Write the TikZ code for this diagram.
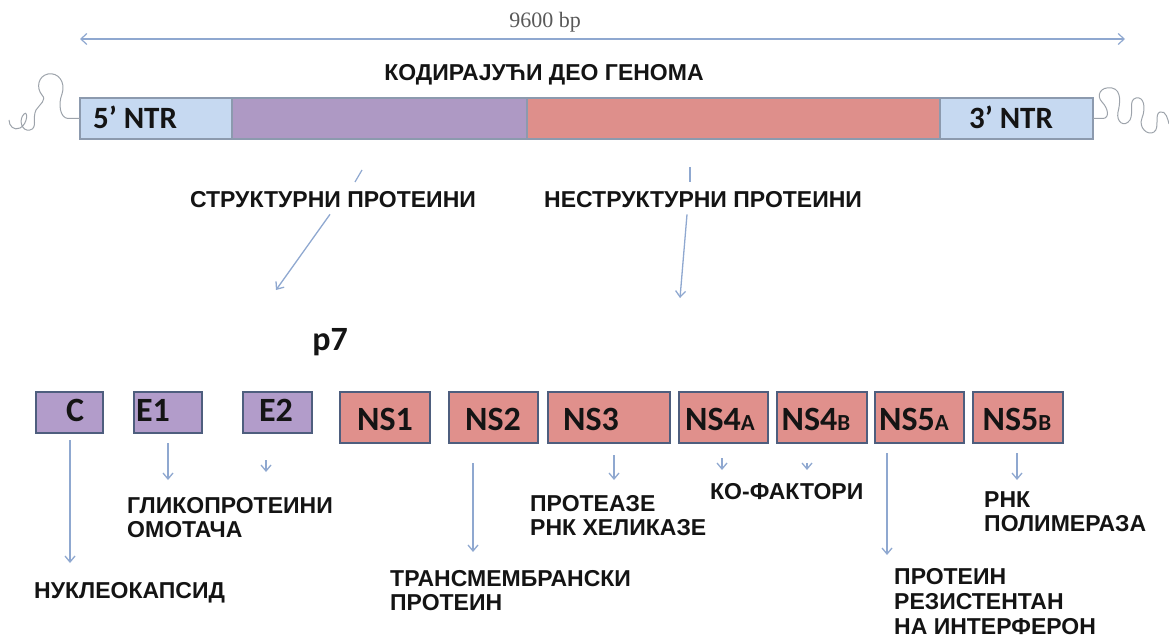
\documentclass[tikz,border=0pt]{standalone}
\usepackage{fontspec}
\setmainfont{Liberation Sans}
\newfontfamily\calfont{Carlito}
\newfontfamily\serffont{Liberation Serif}
\usetikzlibrary{arrows.meta}
\definecolor{ntrblue}{HTML}{C6D9F1}
\definecolor{barpurple}{HTML}{AE99C4}
\definecolor{barpink}{HTML}{DE8F8B}
\definecolor{boxpurple}{HTML}{B29CCA}
\definecolor{boxpink}{HTML}{E0908C}
\definecolor{boxline}{HTML}{4E5E7E}
\definecolor{barline}{HTML}{8C9AAE}
\definecolor{arrowc}{HTML}{8FA8D0}
\definecolor{squig}{HTML}{9DA3AB}
\definecolor{labeltext}{HTML}{141414}
\begin{document}
\begin{tikzpicture}[x=1pt,y=-1pt,
  seg/.style={draw=barline, line width=1.2pt, inner sep=0pt, outer sep=0pt, anchor=north west, minimum height=41pt},
  pbox/.style={draw=boxline, line width=2.5pt, fill=boxpurple, inner sep=0pt, outer sep=0pt, anchor=north west, minimum height=41pt},
  nbox/.style={draw=boxline, line width=2.5pt, fill=boxpink, inner sep=0pt, outer sep=0pt, anchor=north west, minimum height=51pt},
  lbl/.style={font=\fontsize{23}{24}\selectfont\bfseries, text=labeltext, inner sep=0pt, anchor=west, align=left},
  boxtxt/.style={font=\calfont\fontsize{34}{34}\selectfont\bfseries, text=labeltext, inner sep=0pt},
  ntrtxt/.style={font=\calfont\fontsize{31}{31}\selectfont\bfseries, text=labeltext, inner sep=0pt},
  arr/.style={draw=arrowc, line width=1.3pt, -{Straight Barb[length=6pt,width=10pt]}},
  garr/.style={draw=arrowc, line width=1.2pt, {Straight Barb[length=6pt,width=11pt]}-{Straight Barb[length=6pt,width=11pt]}},
  squiggle/.style={draw=squig, line width=1pt}
]
\path[use as bounding box] (0,0) rectangle (1169,639);

% length arrow
\coordinate (gl) at (80,39);
\coordinate (gr) at (1125,39);
\draw[garr] (gl) -- (gr);
\node[font=\serffont\fontsize{22}{22}\selectfont, text=black!65, inner sep=0pt] (len) at (545,22) {9600 bp};

% title
\node[lbl, anchor=center] (title) at (544,75) {КОДИРАЈУЋИ ДЕО ГЕНОМА};

% genome bar
\node[seg, fill=ntrblue, minimum width=152pt] (n5) at (80,98) {};
\node[seg, fill=barpurple, minimum width=295pt] (sp) at (232,98) {};
\node[seg, fill=barpink, minimum width=413pt] (nsp) at (527,98) {};
\node[seg, fill=ntrblue, minimum width=153pt] (n3) at (940,98) {};
\node[ntrtxt] (t5) at (135,117) {5’ NTR};
\node[ntrtxt] (t3) at (1011,117) {3’ NTR};

% squiggles
\draw[squiggle] (n5.west) -- (68,118.5) .. controls (60,118) and (58,104) .. (62,94)
  .. controls (66,82) and (58,72) .. (48,74) .. controls (38,76) and (36,88) .. (42,95)
  .. controls (47,100) and (40,104) .. (36,110) .. controls (32,118) and (38,128) .. (30,130)
  .. controls (22,132) and (18,120) .. (24,114) .. controls (28,110) and (28,124) .. (20,128)
  .. controls (14,131) and (9,126) .. (9,120);
\draw[squiggle] (n3.east) -- (1103,118.5) .. controls (1110,118) and (1108,108) .. (1102,102)
  .. controls (1096,96) and (1100,86) .. (1112,88) .. controls (1122,90) and (1120,104) .. (1118,112)
  .. controls (1116,122) and (1124,128) .. (1130,120) .. controls (1134,112) and (1128,100) .. (1136,98)
  .. controls (1144,96) and (1146,108) .. (1142,118) .. controls (1138,128) and (1148,136) .. (1154,132)
  .. controls (1160,128) and (1154,114) .. (1160,112) .. controls (1166,110) and (1168,120) .. (1169,124);

% group labels
\node[lbl, anchor=center] (struct) at (333,200) {СТРУКТУРНИ ПРОТЕИНИ};
\node[lbl] (nonstruct) at (544,200) {НЕСТРУКТУРНИ ПРОТЕИНИ};
\draw[draw=arrowc, line width=1.2pt] (362,170) -- (355,182);
\draw[draw=arrowc, line width=1.2pt] (690,167) -- (690,182);
\coordinate (sEnd) at (276,290);
\coordinate (nEnd) at (680,298);
\draw[arr] ([xshift=-3pt,yshift=-6pt]struct.south) -- (sEnd);
\draw[arr] ([yshift=-6pt]nonstruct.south -| 687,0) -- (nEnd);

\node[font=\calfont\fontsize{34}{34}\selectfont\bfseries, text=labeltext, inner sep=0pt] (p7) at (330,342) {p7};

% protein boxes
\node[pbox, minimum width=67pt] (C) at (36,392) {};
\node[pbox, minimum width=68pt] (E1) at (134,392) {};
\node[pbox, minimum width=69pt] (E2) at (243,392) {};
\node[nbox, minimum width=90pt] (NS1) at (340,392) {};
\node[nbox, minimum width=89pt] (NS2) at (449,392) {};
\node[nbox, minimum width=122pt] (NS3) at (548,392) {};
\node[nbox, minimum width=89pt] (NS4A) at (679,392) {};
\node[nbox, minimum width=90pt] (NS4B) at (777,392) {};
\node[nbox, minimum width=89pt] (NS5A) at (875,392) {};
\node[nbox, minimum width=90pt] (NS5B) at (973,392) {};

\node[boxtxt] (tC) at (75,410) {C};
\node[boxtxt] (tE1) at (153,410) {E1};
\node[boxtxt] (tE2) at (276,410) {E2};
\node[boxtxt] (tNS1) at (385,419) {NS1};
\node[boxtxt] (tNS2) at (493,419) {NS2};
\node[boxtxt] (tNS3) at (591,419) {NS3};
\node[boxtxt] (tNS4A) at (720,419) {NS4{\fontsize{23}{23}\selectfont A}};
\node[boxtxt] (tNS4B) at (816,419) {NS4{\fontsize{23}{23}\selectfont B}};
\node[boxtxt] (tNS5A) at (914,419) {NS5{\fontsize{23}{23}\selectfont A}};
\node[boxtxt] (tNS5B) at (1017,419) {NS5{\fontsize{23}{23}\selectfont B}};

% function labels
\node[lbl] (nuc) at (34,593) {НУКЛЕОКАПСИД};
\node[lbl] (gly) at (127,518) {ГЛИКОПРОТЕИНИ\\ОМОТАЧА};
\node[lbl] (trans) at (390,591) {ТРАНСМЕМБРАНСКИ\\ПРОТЕИН};
\node[lbl] (prot) at (530,516) {ПРОТЕАЗЕ\\РНК ХЕЛИКАЗЕ};
\node[lbl] (cof) at (710,492) {КО-ФАКТОРИ};
\node[lbl] (rnk) at (984,512) {РНК\\ПОЛИМЕРАЗА};
\node[lbl, font=\fontsize{23}{25}\selectfont\bfseries] (res) at (894,602) {ПРОТЕИН\\РЕЗИСТЕНТАН\\НА ИНТЕРФЕРОН};

% connectors
\coordinate (eC) at (70,563);
\coordinate (eE1) at (168,480);
\coordinate (eE2) at (266,472);
\coordinate (eNS2) at (473,552);
\coordinate (eNS3) at (614,480);
\coordinate (eNS4A) at (722,470);
\coordinate (eNS4B) at (807,470);
\coordinate (eNS5A) at (887,555);
\coordinate (eNS5B) at (1017,480);
\draw[arr] (C.south -| eC) ++(0,7) -- (eC);
\draw[arr] (E1.south -| eE1) ++(0,10) -- (eE1);
\draw[arr] (E2.south -| eE2) ++(0,27) -- (eE2);
\draw[arr] (NS2.south -| eNS2) ++(0,20) -- (eNS2);
\draw[arr] (NS3.south -| eNS3) ++(0,12) -- (eNS3);
\draw[arr] (NS4A.south -| eNS4A) ++(0,15) -- (eNS4A);
\draw[arr] (NS4B.south -| eNS4B) ++(0,20) -- (eNS4B);
\draw[arr] (NS5A.south -| eNS5A) ++(0,10) -- (eNS5A);
\draw[arr] (NS5B.south -| eNS5B) ++(0,10) -- (eNS5B);
\end{tikzpicture}
\end{document}
